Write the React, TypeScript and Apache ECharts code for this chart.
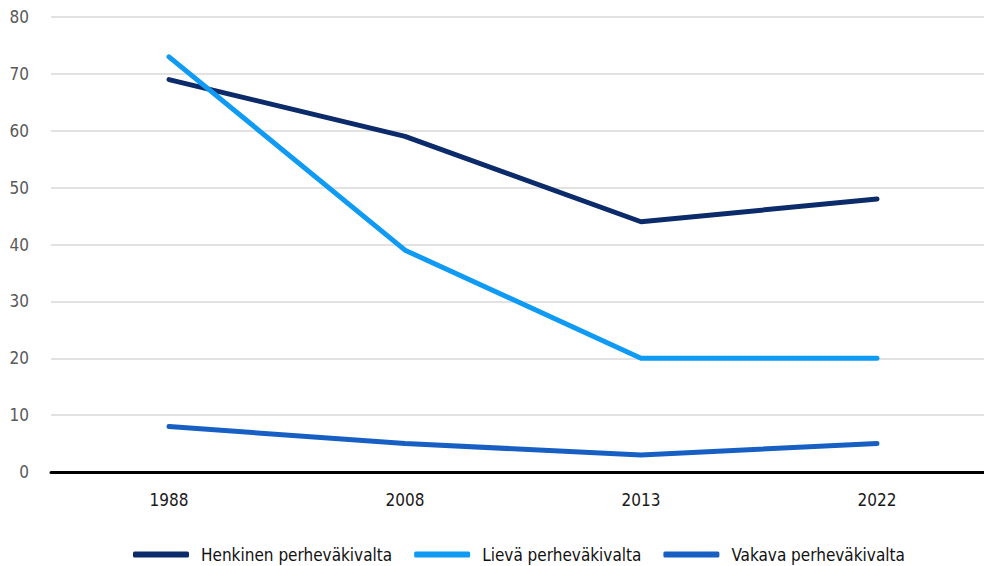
import React, { useEffect, useRef } from "react";
import * as echarts from "echarts";

const categories = ["1988", "2008", "2013", "2022"];
const henkinen = [69, 59, 44, 48];
const lieva = [73, 39, 20, 20];
const vakava = [8, 5, 3, 5];
const seriesNames = ["Henkinen perheväkivalta", "Lievä perheväkivalta", "Vakava perheväkivalta"];
const colors = ["#0b2b6a", "#0f9af4", "#175fc2"];

const FONT = "'Liberation Sans Narrow', 'DejaVu Sans Condensed', 'Roboto Condensed', sans-serif";

export default function App() {
  const ref = useRef<HTMLDivElement>(null);
  useEffect(() => {
    if (!ref.current) return;
    const chart = echarts.init(ref.current, undefined, { renderer: "svg" });
    const mk = (name: string, data: number[], color: string) => ({
      name,
      type: "line",
      data,
      symbol: "none",
      lineStyle: { color, width: 5, cap: "round", join: "round" },
      itemStyle: { color },
    });
    chart.setOption({
      animation: false,
      textStyle: { fontFamily: FONT },
      grid: { left: 51, right: 0, top: 17, bottom: 94, containLabel: false },
      xAxis: {
        type: "category",
        data: categories,
        boundaryGap: true,
        axisLine: { show: true, lineStyle: { color: "#000000", width: 3 } },
        axisTick: { show: false },
        axisLabel: { color: "#1a1a1a", fontSize: 17, margin: 19, fontFamily: FONT },
      },
      yAxis: {
        type: "value",
        min: 0,
        max: 80,
        interval: 10,
        axisLine: { show: false },
        axisTick: { show: false },
        axisLabel: { color: "#595959", fontSize: 17, margin: 22, fontFamily: FONT },
        splitLine: { lineStyle: { color: "#d9d9d9", width: 1.5 } },
      },
      legend: {
        bottom: -2,
        left: 128,
        data: seriesNames,
        icon: "roundRect",
        itemWidth: 56,
        itemHeight: 6,
        itemGap: 22,
        textStyle: { color: "#111111", fontSize: 17, fontFamily: FONT, padding: [0, 0, 0, 7] },
      },
      series: [
        mk(seriesNames[0], henkinen, colors[0]),
        mk(seriesNames[1], lieva, colors[1]),
        mk(seriesNames[2], vakava, colors[2]),
      ],
    });
    return () => chart.dispose();
  }, []);
  return (
    <div style={{ width: 984, height: 566, position: "absolute", left: 0, top: 0, overflow: "hidden" }}>
      <div ref={ref} style={{ width: 995, height: 566 }} />
    </div>
  );
}
